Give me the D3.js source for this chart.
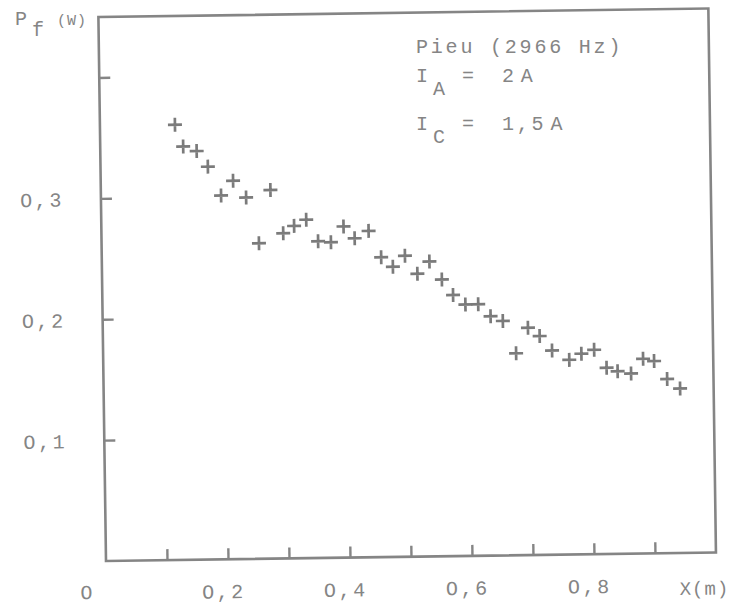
<!DOCTYPE html>
<html>
<head>
<meta charset="utf-8">
<script src="https://cdn.jsdelivr.net/npm/d3@7"></script>
<style>
    html, body { margin: 0; padding: 0; background: #fff; }
    svg text { font-family: 'Liberation Mono', 'DejaVu Sans Mono', monospace; fill: #858585; }
</style>
</head>
<body>
<svg id="chart" width="742" height="604"></svg>
<script>
// Measured points: distance X (m) and power Pf (W)
const distances = [
    0.123, 0.136, 0.158, 0.176, 0.197, 0.217, 0.238, 0.258, 0.278, 0.298,
    0.316, 0.336, 0.355, 0.376, 0.397, 0.415, 0.438, 0.458, 0.477, 0.497,
    0.517, 0.537, 0.557, 0.575, 0.595, 0.616, 0.636, 0.656, 0.677, 0.697,
    0.716, 0.736, 0.764, 0.784, 0.805, 0.825, 0.843, 0.865, 0.885, 0.903,
    0.924, 0.945
];
const powers = [
    0.360, 0.342, 0.338, 0.325, 0.301, 0.313, 0.299, 0.261, 0.305, 0.269,
    0.275, 0.280, 0.262, 0.261, 0.274, 0.264, 0.270, 0.248, 0.240, 0.249,
    0.234, 0.244, 0.229, 0.216, 0.208, 0.208, 0.198, 0.194, 0.167, 0.188,
    0.181, 0.169, 0.161, 0.166, 0.169, 0.154, 0.151, 0.149, 0.161, 0.159,
    0.144, 0.136
];

const xTicks = [0.1, 0.2, 0.3, 0.4, 0.5, 0.6, 0.7, 0.8, 0.9];
const xTickLabels = ['', 'O,2', '', 'O,4', '', 'O,6', '', 'O,8', ''];
const yTicks = [0.1, 0.2, 0.3, 0.4];
const yTickLabels = ['O,1', 'O,2', 'O,3', ''];

const legendTitle = 'Pieu (2966 Hz)';
const currents = [
    { symbol: 'I', sub: 'A', value: '2', unit: 'A' },
    { symbol: 'I', sub: 'C', value: '1,5', unit: 'A' }
];

const ink = '#858585';
const svg = d3.select('#chart');

// The scanned frame is slightly tilted; rotate the plot group to match
const plot = svg.append('g')
    .attr('transform', 'rotate(-0.8, 105, 561)');

const x = d3.scaleLinear().domain([0, 1]).range([106, 716]);
const y = d3.scaleLinear().domain([0, 0.45]).range([561, 17]);

// Frame
plot.append('rect')
    .attr('x', x(0))
    .attr('y', y(0.45))
    .attr('width', x(1) - x(0))
    .attr('height', y(0) - y(0.45))
    .attr('fill', 'none')
    .attr('stroke', ink)
    .attr('stroke-width', 2.6);

/**
 * Style an axis group: inward ticks, typewriter labels, no domain line
 */
function styleAxis(g) {
    g.select('.domain').remove();
    g.selectAll('line')
        .attr('stroke', ink)
        .attr('stroke-width', 2.4);
    g.selectAll('text')
        .style('font-size', '20px')
        .style('letter-spacing', '2.6px')
        .attr('fill', ink);
}

plot.append('g')
    .attr('transform', `translate(0, ${y(0)})`)
    .call(d3.axisBottom(x)
        .tickValues(xTicks)
        .tickSizeInner(-11)
        .tickSizeOuter(0)
        .tickFormat((d, i) => xTickLabels[i]))
    .call(styleAxis)
    .selectAll('text')
    .attr('y', 39)
    .attr('dy', 0)
    .attr('dx', -5);

plot.append('g')
    .attr('transform', `translate(${x(0)}, 0)`)
    .call(d3.axisLeft(y)
        .tickValues(yTicks)
        .tickSizeInner(-11)
        .tickSizeOuter(0)
        .tickFormat((d, i) => yTickLabels[i]))
    .call(styleAxis)
    .selectAll('text')
    .attr('x', -37)
    .attr('dy', '0.36em');

// Origin and axis name
plot.append('text')
    .attr('x', x(0) - 20)
    .attr('y', y(0) + 38)
    .attr('text-anchor', 'middle')
    .style('font-size', '20px')
    .text('O');

plot.append('text')
    .attr('x', x(1) - 12)
    .attr('y', y(0) + 42)
    .attr('text-anchor', 'middle')
    .style('font-size', '19px')
    .style('letter-spacing', '1px')
    .text('X(m)');

// Data points as "+" marks
plot.selectAll('.pt')
    .data(distances)
    .enter()
    .append('path')
    .attr('class', 'pt')
    .attr('transform', (d, i) => `translate(${x(d)}, ${y(powers[i])})`)
    .attr('d', 'M-7,0H7M0,-7V7')
    .attr('stroke', '#7b7b7b')
    .attr('stroke-width', 2.7)
    .attr('fill', 'none');

// Y axis title Pf (W)
const yTitle = svg.append('text')
    .attr('x', 15)
    .attr('y', 25)
    .style('font-size', '20px');
yTitle.append('tspan').text('P');
yTitle.append('tspan').attr('x', 32).attr('dy', 11).text('f');
yTitle.append('tspan').attr('x', 57).attr('dy', -11)
    .style('font-size', '15px').style('letter-spacing', '1px').text('(W)');

// Legend block
const legend = svg.append('g')
    .style('font-size', '20px')
    .style('letter-spacing', '2.8px');

legend.append('text')
    .attr('x', 416)
    .attr('y', 53)
    .text(legendTitle);

currents.forEach((c, i) => {
    const t = legend.append('text')
        .attr('x', 416)
        .attr('y', 82 + i * 48);
    t.append('tspan').text(c.symbol);
    t.append('tspan').attr('x', 433).attr('dy', 13).text(c.sub);
    t.append('tspan').attr('x', 462).attr('dy', -13).text('=');
    t.append('tspan').attr('x', 502).text(c.value);
    t.append('tspan').attr('dx', 4).text(c.unit);
});
</script>
</body>
</html>
